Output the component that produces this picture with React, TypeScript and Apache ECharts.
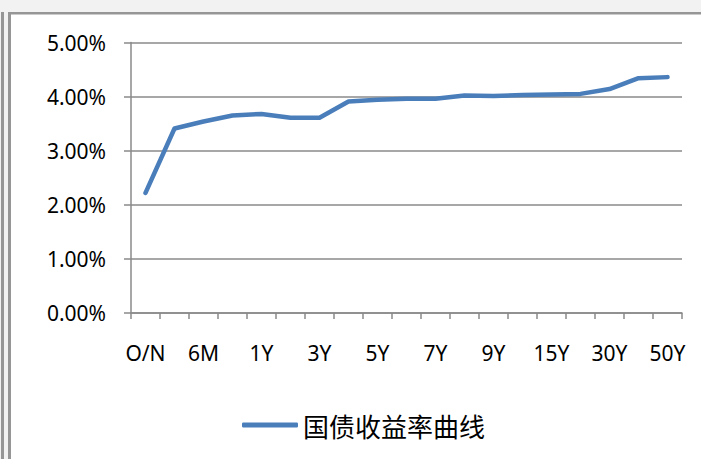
import React, { useEffect, useRef } from "react";
import * as echarts from "echarts";

const categories = ["O/N", "3M", "6M", "9M", "1Y", "2Y", "3Y", "4Y", "5Y", "6Y", "7Y", "8Y", "9Y", "10Y", "15Y", "20Y", "30Y", "40Y", "50Y"];
const yieldValues = [2.22, 3.41, 3.54, 3.65, 3.68, 3.61, 3.61, 3.91, 3.94, 3.96, 3.96, 4.02, 4.01, 4.03, 4.04, 4.05, 4.14, 4.34, 4.36];
const seriesName = "国债收益率曲线";
const yMin = 0;
const yMax = 5;
const yInterval = 1;

export default function App() {
  const ref = useRef<HTMLDivElement>(null);
  useEffect(() => {
    if (!ref.current) return;
    const chart = echarts.init(ref.current, null, { renderer: "svg" });
    const frame = "#969696";
    chart.setOption({
      animation: false,
      backgroundColor: "#f2f2f2",
      graphic: {
        elements: [
          { type: "rect", z: -10, silent: true, shape: { x: 1, y: 12, width: 3, height: 447 }, style: { fill: frame } },
          { type: "rect", z: -10, silent: true, shape: { x: 8, y: 12, width: 693, height: 447 }, style: { fill: frame } },
          { type: "rect", z: -9, silent: true, shape: { x: 11, y: 14.5, width: 690, height: 445 }, style: { fill: "#ffffff" } },
        ],
      },
      grid: { left: 131, right: 19, top: 42.5, bottom: 146, containLabel: false },
      legend: {
        left: 237,
        top: 406,
        padding: 5,
        icon: "roundRect",
        itemWidth: 56,
        itemHeight: 5,
        itemGap: 10,
        textStyle: { fontFamily: "Noto Sans CJK SC", fontSize: 26, lineHeight: 28, color: "#000" },
        data: [seriesName],
      },
      xAxis: {
        type: "category",
        data: categories,
        boundaryGap: true,
        axisLine: { lineStyle: { color: "#8a8a8a", width: 1.5 } },
        axisTick: { show: true, interval: 0, length: 6, lineStyle: { color: "#8a8a8a", width: 1.5 } },
        axisLabel: { interval: 1, margin: 29, fontFamily: "Noto Sans", fontSize: 21, color: "#000" },
        splitLine: { show: false },
      },
      yAxis: {
        type: "value",
        min: yMin,
        max: yMax,
        interval: yInterval,
        axisLine: { show: true, lineStyle: { color: "#8a8a8a", width: 1.5 } },
        axisTick: { show: true, inside: false, length: 7, lineStyle: { color: "#8a8a8a", width: 1.5 } },
        axisLabel: {
          margin: 25,
          fontFamily: "Noto Sans",
          fontSize: 21,
          color: "#000",
          formatter: (v: number) => v.toFixed(2) + "%",
        },
        splitLine: { show: true, lineStyle: { color: "#8a8a8a", width: 1.5 } },
      },
      series: [
        {
          name: seriesName,
          type: "line",
          data: yieldValues,
          symbol: "none",
          color: "#4a7ebb",
          lineStyle: { width: 4.5, color: "#4a7ebb", cap: "round", join: "round" },
        },
      ],
    });
    return () => chart.dispose();
  }, []);
  return <div ref={ref} style={{ position: "fixed", left: 0, top: 0, width: 701, height: 459 }} />;
}
